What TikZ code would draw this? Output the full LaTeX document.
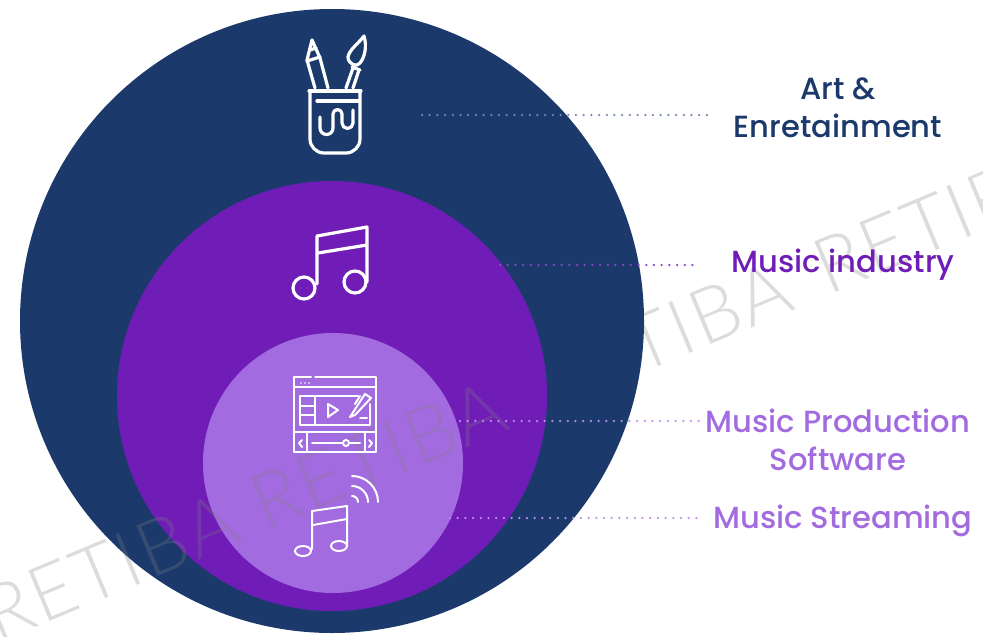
\documentclass[tikz,border=0pt]{standalone}
\usepackage{fontspec}
\setmainfont{Poppins Medium}
\newfontfamily\markfont[LetterSpace=3]{Lato Light}
\definecolor{navyblue}{HTML}{1B3A6B}
\definecolor{deeppurple}{HTML}{701DB8}
\definecolor{lightpurple}{HTML}{A36BE0}
\definecolor{navydots}{HTML}{7488B0}
\definecolor{purpledots}{HTML}{8A45CC}
\definecolor{lightdots}{HTML}{BC90EC}
\tikzset{
	icon/.style = {draw = white, line width = 0.064 cm, line cap = round, line join = round},
	thinicon/.style = {icon, line width = 0.04 cm},
	dots/.style = {line width = 0.05 cm, line cap = round, dash pattern = on 0 pt off 0.154 cm},
	caption/.style = {font = \fontsize{17.4}{21.6}\selectfont, align = center, inner sep = 0 pt},
	watermark/.style = {font = \markfont\fontsize{44}{48}\selectfont, text = gray, text opacity = 0.27, rotate = 22.7}
}
\begin{document}
\begin{tikzpicture}[x = 0.02 cm, y = -0.02 cm]

	% Everything is in pixels of the reference, y going down

	\clip (0, 0) rectangle (983, 636);
	\fill [white] (0, 0) rectangle (983, 636);

	% Watermark behind the circles

	\foreach \x/\y [count = \i] in {663/335, 941/219}
		\node [watermark] (backmark\i) at (\x, \y) {RETIBA};

	% Nested circles

	\fill [navyblue] (332, 321) circle (312);
	\fill [deeppurple] (332, 396) circle (215);
	\fill [lightpurple] (333, 463) circle (130);

	% Watermark over the circles

	\foreach \x/\y [count = \i] in {110/567, 378/455}
		\node [watermark] (frontmark\i) at (\x, \y) {RETIBA};

	% Pot with pencil and brush

	\draw [icon] (309, 91) -- (361, 91);
	\draw [icon, rounded corners = 8] (310, 91) -- (310, 153) -- (360, 153) -- (360, 91);
	\draw [icon] (317, 101) -- (359, 101);
	\draw [icon] (320, 117) -- (320, 128) arc (180 : 0 : 6.5) -- (333, 114) arc (180 : 360 : 4.5) -- (342, 123) arc (180 : 0 : 5.5) -- (353, 110);
	\draw [icon] (315, 88) -- (307, 60) -- (312, 40) -- (320, 58) -- (328, 88);
	\draw [icon] (307, 61) -- (320, 57);
	\draw [icon] (310, 50) -- (316, 48);
	\draw [icon] (364, 36) .. controls (358, 44) and (349, 50) .. (348, 57) .. controls (348, 64) and (357, 68) .. (360, 63) .. controls (365, 57) and (367, 46) .. (364, 36) -- cycle;
	\draw [icon] (352, 67) -- (360, 70);
	\draw [icon] (353, 68) -- (346, 88);
	\draw [icon] (359, 70) -- (353, 88);

	% Large note

	\draw [icon] (304, 288) circle (11);
	\draw [icon] (355, 282) circle (11);
	\draw [icon] (317, 284) -- (317, 236) -- (367, 227) -- (367, 282);
	\draw [icon] (318, 253) -- (367, 245);

	% Video editor window

	\begin{scope}[thinicon]
		\draw (311, 377) -- (294, 377) -- (294, 452) -- (376, 452) -- (376, 377) -- (315, 377);
		\draw (294, 387) -- (376, 387);
		\foreach \x in {301, 305, 309}
			\fill [white] (\x, 383) circle (0.9);
		\draw (358, 396) -- (300, 396) -- (300, 425) -- (370, 425) -- (370, 404);
		\draw (300, 406) -- (315, 406);
		\draw (300, 415) -- (315, 415);
		\draw (315, 396) -- (315, 425);
		\draw (328, 404) -- (338, 410) -- (328, 417) -- cycle;
		\draw (350, 417) -- (365, 394) -- (371, 398) -- (355, 415) -- cycle;
		\draw (360, 396) -- (355, 404);
		\draw (360, 418) -- (367, 418);
		\draw (294, 432) -- (376, 432);
		\draw (307, 432) -- (307, 452);
		\draw (365, 432) -- (365, 452);
		\draw (302, 440) -- (299, 443) -- (302, 447);
		\draw (369, 440) -- (372, 443) -- (369, 447);
		\draw (312, 443) -- (343, 443);
		\draw (349, 443) -- (360, 443);
		\draw (346, 443) circle (3);
	\end{scope}

	% Streaming note

	\begin{scope}[thinicon]
		\draw (303, 551) ellipse (8 and 5);
		\draw (339, 546) ellipse (8 and 5);
		\draw (312, 549) -- (312, 511) -- (347, 506) -- (347, 546);
		\draw (313, 525) -- (347, 519);
		\draw (352, 476) arc (270 : 360 : 26);
		\draw (352, 486) arc (270 : 360 : 16);
		\draw (352, 496) arc (270 : 360 : 6);
	\end{scope}

	% Captions

	\node [caption, text = navyblue] (artcaption) at (838, 108) {Art \&\\Enretainment};
	\node [caption, text = deeppurple] (industrycaption) at (843, 265) {Music industry};
	\node [caption, text = lightpurple] (softwarecaption) at (838, 440) {Music Production\\Software};
	\node [caption, text = lightpurple] (streamingcaption) at (843, 521) {Music Streaming};

	% Dotted leaders, each one stops short of its caption

	\coordinate (artleader) at (422, 115);
	\coordinate (industryleader) at (500, 265);
	\coordinate (softwareleader) at (460, 421);
	\coordinate (streamingleader) at (450, 518);

	\draw [dots, navydots, shorten > = 0.48 cm] (artleader) -- (artleader -| artcaption.west);
	\draw [dots, purpledots, shorten > = 0.62 cm] (industryleader) -- (industryleader -| industrycaption.west);
	\draw [dots, lightdots, shorten > = 0.08 cm] (softwareleader) -- (softwareleader -| softwarecaption.west);
	\draw [dots, lightdots, shorten > = 0.28 cm] (streamingleader) -- (streamingleader -| streamingcaption.west);

\end{tikzpicture}
\end{document}
